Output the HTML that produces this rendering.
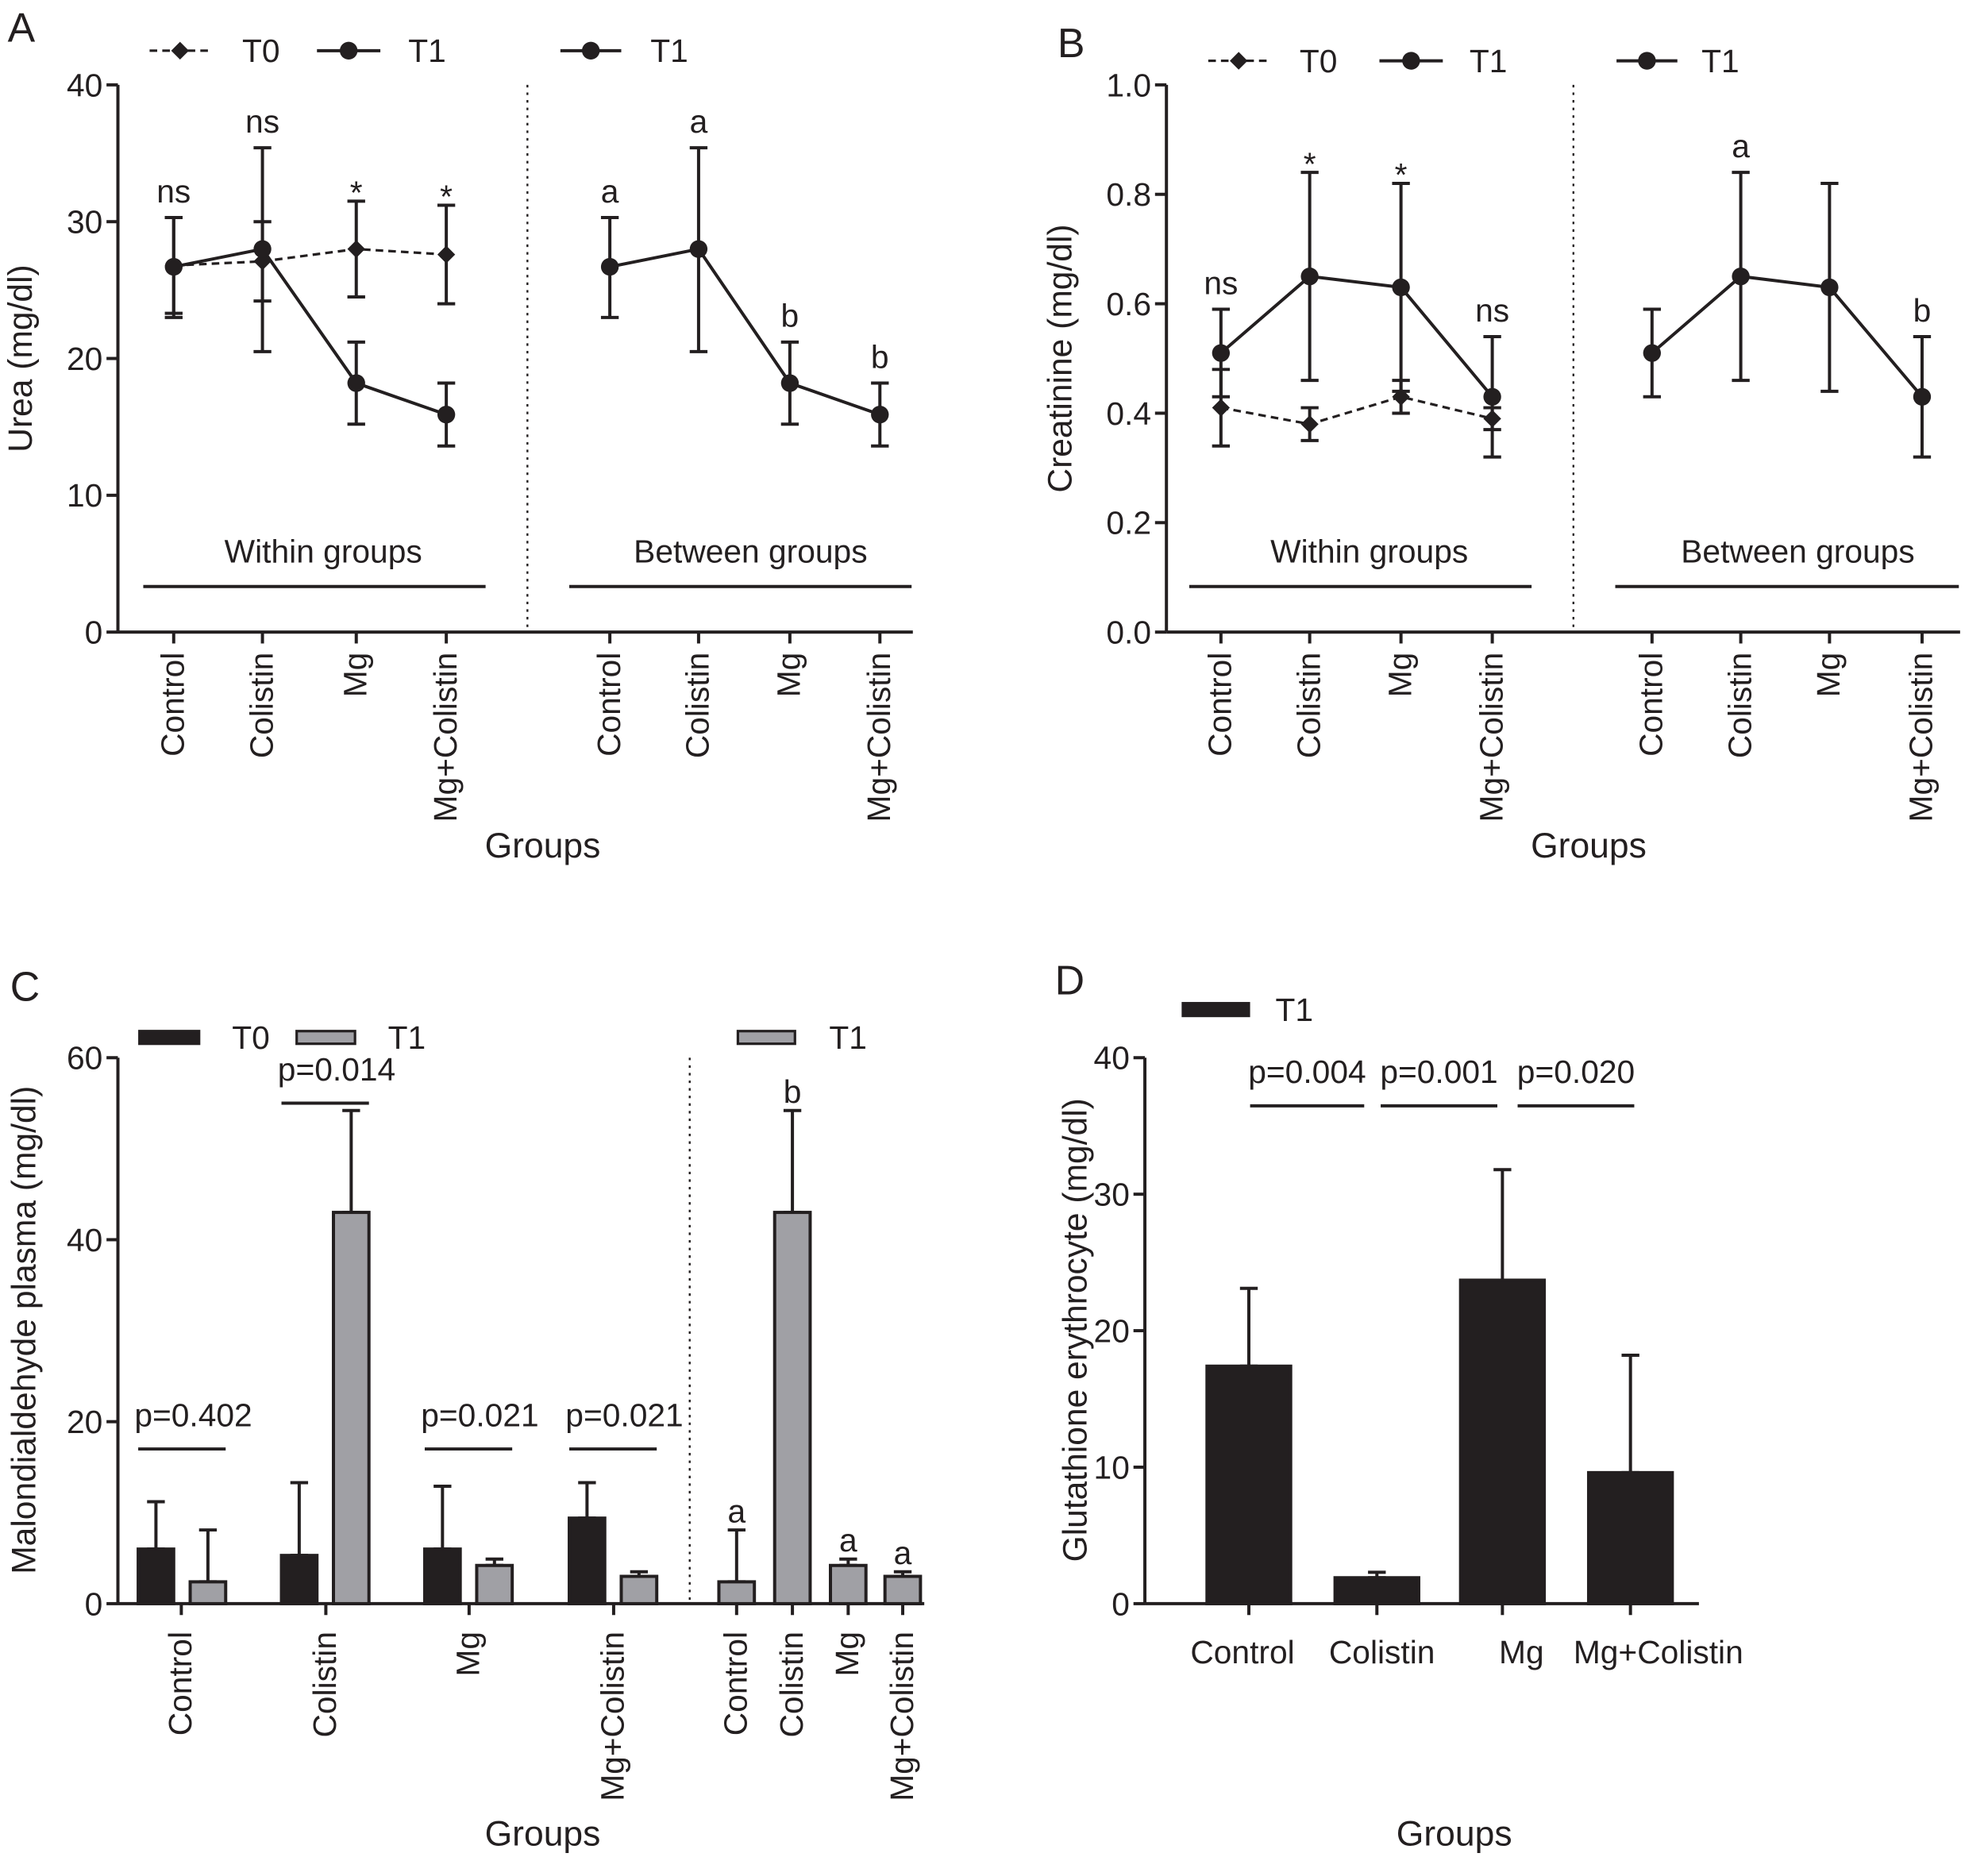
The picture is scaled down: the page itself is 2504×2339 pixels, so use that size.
<!DOCTYPE html>
<html><head><meta charset="utf-8"><style>
html,body{margin:0;padding:0;background:#fff;}
svg{display:block;font-family:"Liberation Sans",Arial,sans-serif;}
</style></head><body>
<svg id="fig" width="2504" height="2339" viewBox="0 0 1568 1466" preserveAspectRatio="none" xmlns="http://www.w3.org/2000/svg"></svg>
<script>
// ---- Panel A data (Urea) ----
const aCats = ["Control","Colistin","Mg","Mg+Colistin"];
const aT0 = [26.8, 27.1, 28.0, 27.6];
const aT0Lo = [23.3, 24.2, 24.5, 24.0];
const aT0Hi = [30.3, 30.0, 31.5, 31.2];
const aT1 = [26.7, 28.0, 18.2, 15.9];
const aT1Lo = [23.0, 20.5, 15.2, 13.6];
const aT1Hi = [30.3, 35.4, 21.2, 18.2];
const aWithinLbl = ["ns","ns","*","*"];
const aBetweenLbl = ["a","a","b","b"];
const aTicks = [0,10,20,30,40];
// ---- Panel B data (Creatinine) ----
const bT0 = [0.41, 0.38, 0.43, 0.39];
const bT0Lo = [0.34, 0.35, 0.40, 0.37];
const bT0Hi = [0.48, 0.41, 0.46, 0.41];
const bT1 = [0.51, 0.65, 0.63, 0.43];
const bT1Lo = [0.43, 0.46, 0.44, 0.32];
const bT1Hi = [0.59, 0.84, 0.82, 0.54];
const bWithinLbl = ["ns","*","*","ns"];
const bBetweenLbl = ["","a","","b"];
const bTicks = [0.0,0.2,0.4,0.6,0.8,1.0];
// ---- Panel C data (MDA) ----
const cT0 = [6.0, 5.3, 6.0, 9.4];
const cT0Err = [11.2, 13.3, 12.9, 13.3];
const cT1 = [2.4, 43.0, 4.2, 3.0];
const cT1Err = [8.1, 54.2, 4.9, 3.5];
const cP = ["p=0.402","p=0.014","p=0.021","p=0.021"];
const cPy = [17.0, 55.0, 17.0, 17.0];
const cBetweenLbl = ["a","b","a","a"];
const cTicks = [0,20,40,60];
// ---- Panel D data (Glutathione) ----
const dT1 = [17.4, 1.9, 23.7, 9.6];
const dT1Err = [23.1, 2.3, 31.8, 18.2];
const dP = ["p=0.004","p=0.001","p=0.020"];
const dTicks = [0,10,20,30,40];

const svg = document.getElementById('fig');
const NS = "http://www.w3.org/2000/svg";
function el(tag, attrs, name, parent){
  const e = document.createElementNS(NS, tag);
  for (const k in attrs) e.setAttribute(k, attrs[k]);
  
  
  (parent||svg).appendChild(e);
  return e;
}
function line(x1,y1,x2,y2,name,w,dash){
  const a={x1,y1,x2,y2,stroke:"#231f20","stroke-width":w||2.5};
  if(dash) a["stroke-dasharray"]=dash;
  return el("line",a,name);
}
function text(x,y,s,name,size,anchor,rot){
  const a={x,y,"font-size":(size||22)*1.16,"text-anchor":anchor||"middle",fill:"#231f20"};
  if(rot) a.transform=`rotate(-90 ${x} ${y})`;
  const t=el("text",a,name); t.textContent=s; return t;
}
function yAxis(x, y0, y1, ticks, max, fmt, name){
  line(x,y0,x,y1,name+"-y-axis");
  ticks.forEach(t=>{
    const y=y0-(t/max)*(y0-y1);
    line(x-9,y,x,y,name+"-y-tick");
    text(x-12,y+9,fmt(t),name+"-y-tick-label",22,"end");
  });
}
function errbar(x,lo,hi,name){
  line(x,lo,x,hi,name,2.5);
  line(x-7,hi,x+7,hi,name+"-cap",2.5);
  line(x-7,lo,x+7,lo,name+"-cap",2.5);
}
function diamond(x,y,name){el("polygon",{points:`${x},${y-7} ${x+7},${y} ${x},${y+7} ${x-7},${y}`,fill:"#231f20"},name);}
function dot(x,y,name){el("circle",{cx:x,cy:y,r:7,fill:"#231f20"},name);}

// ===== Line panels A and B =====
function linePanel(p){
  const {letter,ax,yTop,yBot,max,ticks,fmt,xs1,xs2,divX,T0,T0Lo,T0Hi,T1,T1Lo,T1Hi,wl,bl,ylabel,ylabelX,legY,leg,within,between,xEnd,groupsX,pfx}=p;
  const Y=v=>yBot-(v/max)*(yBot-yTop);
  text(p.letterX,p.letterY,letter,pfx+"-panel-letter",28,"start");
  yAxis(ax,yBot,yTop,ticks,max,fmt,pfx);
  line(ax,yBot,xEnd,yBot,pfx+"-x-axis");
  line(divX,yTop,divX,yBot,pfx+"-divider",1.5,"2,4");
  text(ylabelX,(yTop+yBot)/2,ylabel,pfx+"-y-axis-title",23,"middle",true);
  [...xs1,...xs2].forEach((x,i)=>{
    line(x,yBot,x,yBot+9,pfx+"-x-tick");
    text(x+8,yBot+16,aCats[i%4],pfx+"-x-tick-label",22,"end",true);
  });
  text(groupsX,677,"Groups",pfx+"-x-axis-title",24);
  el("polyline",{points:xs1.map((x,i)=>`${x},${Y(T0[i])}`).join(" "),fill:"none",stroke:"#231f20","stroke-width":2,"stroke-dasharray":"6,4"},pfx+"-t0-line");
  el("polyline",{points:xs1.map((x,i)=>`${x},${Y(T1[i])}`).join(" "),fill:"none",stroke:"#231f20","stroke-width":2.5},pfx+"-t1-line");
  xs1.forEach((x,i)=>{
    errbar(x,Y(T0Lo[i]),Y(T0Hi[i]),pfx+"-t0-errorbar");
    errbar(x,Y(T1Lo[i]),Y(T1Hi[i]),pfx+"-t1-errorbar");
    diamond(x,Y(T0[i]),pfx+"-t0-point");
    dot(x,Y(T1[i]),pfx+"-t1-point");
    const top=Math.min(Y(T0Hi[i]),Y(T1Hi[i]));
    if(wl[i]) text(x,top-(wl[i]==="*"?-2:12),wl[i],pfx+"-within-sig-label",22);
  });
  el("polyline",{points:xs2.map((x,i)=>`${x},${Y(T1[i])}`).join(" "),fill:"none",stroke:"#231f20","stroke-width":2.5},pfx+"-between-t1-line");
  xs2.forEach((x,i)=>{
    errbar(x,Y(T1Lo[i]),Y(T1Hi[i]),pfx+"-between-errorbar");
    dot(x,Y(T1[i]),pfx+"-between-point");
    if(bl[i]) text(x,Y(T1Hi[i])-12,bl[i],pfx+"-between-sig-label",22);
  });
  text(within[0],444,"Within groups",pfx+"-within-label",22);
  line(within[1],463,within[2],463,pfx+"-within-bar");
  text(between[0],444,"Between groups",pfx+"-between-label",22);
  line(between[1],463,between[2],463,pfx+"-between-bar");
  line(leg[0],legY,leg[0]+47,legY,pfx+"-legend-t0-line",2,"6,4");diamond(leg[0]+24,legY,pfx+"-legend-t0-marker");
  text(leg[1],legY+9,"T0",pfx+"-legend-t0-label",22,"start");
  line(leg[2],legY,leg[2]+50,legY,pfx+"-legend-t1-line");dot(leg[2]+25,legY,pfx+"-legend-t1-marker");
  text(leg[3],legY+9,"T1",pfx+"-legend-t1-label",22,"start");
  line(leg[4],legY,leg[4]+48,legY,pfx+"-legend-t1b-line");dot(leg[4]+24,legY,pfx+"-legend-t1b-marker");
  text(leg[5],legY+9,"T1",pfx+"-legend-t1b-label",22,"start");
}
linePanel({letter:"A",letterX:6,letterY:33,pfx:"urea",ax:93,yTop:67,yBot:499,max:40,ticks:aTicks,fmt:t=>t,
  xs1:[137,207,281,352],xs2:[481,551,623,694],divX:416,T0:aT0,T0Lo:aT0Lo,T0Hi:aT0Hi,T1:aT1,T1Lo:aT1Lo,T1Hi:aT1Hi,
  wl:aWithinLbl,bl:aBetweenLbl,ylabel:"Urea (mg/dl)",ylabelX:25,legY:40,leg:[118,191,250,322,442,513],
  within:[255,113,383],between:[592,449,719],xEnd:720,groupsX:428});
linePanel({letter:"B",letterX:834,letterY:45,pfx:"creatinine",ax:920,yTop:67,yBot:499,max:1.0,ticks:bTicks,fmt:t=>t.toFixed(1),
  xs1:[963,1033,1105,1177],xs2:[1303,1373,1443,1516],divX:1241,T0:bT0,T0Lo:bT0Lo,T0Hi:bT0Hi,T1:bT1,T1Lo:bT1Lo,T1Hi:bT1Hi,
  wl:bWithinLbl,bl:bBetweenLbl,ylabel:"Creatinine (mg/dl)",ylabelX:845,legY:48,leg:[953,1025,1088,1159,1275,1342],
  within:[1080,938,1208],between:[1418,1274,1545],xEnd:1546,groupsX:1253});

// ===== Panel C =====
(function(){
  const pfx="mda",ax=93,yTop=835,yBot=1266,max=60;
  const Y=v=>yBot-(v/max)*(yBot-yTop);
  text(8,790,"C",pfx+"-panel-letter",28,"start");
  yAxis(ax,yBot,yTop,cTicks,max,t=>t,pfx);
  line(ax,yBot,729,yBot,pfx+"-x-axis");
  line(544,yTop,544,yBot,pfx+"-divider",1.5,"2,4");
  text(28,1050,"Malondialdehyde plasma (mg/dl)",pfx+"-y-axis-title",23,"middle",true);
  const g0=[123,236,349,463], bw=28, gap=41;
  const ticksX=[143,257,370,484,581,625,669,712];
  ticksX.forEach((x,i)=>{line(x,yBot,x,yBot+9,pfx+"-x-tick");text(x+8,yBot+22,aCats[i%4],pfx+"-x-tick-label",22,"end",true);});
  function bar(cx,v,e,fill,name){
    errbar(cx,Y(v),Y(e),name+"-errorbar");
    el("rect",{x:cx-bw/2,y:Y(v),width:bw,height:yBot-Y(v),fill,stroke:"#231f20","stroke-width":2.5},name);
  }
  g0.forEach((x,i)=>{
    bar(x,cT0[i],cT0Err[i],"#231f20",pfx+"-t0-bar");
    bar(x+gap,cT1[i],cT1Err[i],"#a0a0a5",pfx+"-t1-bar");
    const py=Y(cPy[i]);
    line(x-14,py,x+gap+14,py,pfx+"-p-bracket");
    text(x+gap/2+9,py-18,cP[i],pfx+"-p-value",22);
  });
  const bx=[581,625,669,712];
  bx.forEach((x,i)=>{
    bar(x,cT1[i],cT1Err[i],"#a0a0a5",pfx+"-between-bar");
    text(x,Y(cT1Err[i])-6,cBetweenLbl[i],pfx+"-between-sig-label",22);
  });
  const ly=819;
  el("rect",{x:110,y:ly-5,width:47,height:10,fill:"#231f20",stroke:"#231f20","stroke-width":2},pfx+"-legend-t0-swatch");
  text(183,ly+9,"T0",pfx+"-legend-t0-label",22,"start");
  el("rect",{x:234,y:ly-5,width:46,height:10,fill:"#a0a0a5",stroke:"#231f20","stroke-width":2},pfx+"-legend-t1-swatch");
  text(306,ly+9,"T1",pfx+"-legend-t1-label",22,"start");
  el("rect",{x:582,y:ly-5,width:45,height:10,fill:"#a0a0a5",stroke:"#231f20","stroke-width":2},pfx+"-legend-t1b-swatch");
  text(654,ly+9,"T1",pfx+"-legend-t1b-label",22,"start");
  text(428,1457,"Groups",pfx+"-x-axis-title",24);
})();

// ===== Panel D =====
(function(){
  const pfx="gsh",ax=903,yTop=835,yBot=1266,max=40;
  const Y=v=>yBot-(v/max)*(yBot-yTop);
  text(832,785,"D",pfx+"-panel-letter",28,"start");
  yAxis(ax,yBot,yTop,dTicks,max,t=>t,pfx);
  line(ax,yBot,1340,yBot,pfx+"-x-axis");
  text(857,1050,"Glutathione erythrocyte (mg/dl)",pfx+"-y-axis-title",23,"middle",true);
  const xs=[985,1086,1185,1286], bw=66, lx=[980,1090,1200,1308];
  xs.forEach((x,i)=>{
    line(x,yBot,x,yBot+9,pfx+"-x-tick");
    text(lx[i],1313,aCats[i],pfx+"-x-tick-label",22);
    errbar(x,Y(dT1[i]),Y(dT1Err[i]),pfx+"-errorbar");
    el("rect",{x:x-bw/2,y:Y(dT1[i]),width:bw,height:yBot-Y(dT1[i]),fill:"#231f20",stroke:"#231f20","stroke-width":2.5},pfx+"-bar");
  });
  const pl=[[986,1076],[1089,1181],[1197,1289]];
  pl.forEach((p,i)=>{
    line(p[0],873,p[1],873,pfx+"-p-bracket");
    text((p[0]+p[1])/2,855,dP[i],pfx+"-p-value",22);
  });
  el("rect",{x:933,y:792,width:52,height:10,fill:"#231f20",stroke:"#231f20","stroke-width":2},pfx+"-legend-swatch");
  text(1006,806,"T1",pfx+"-legend-label",22,"start");
  text(1147,1457,"Groups",pfx+"-x-axis-title",24);
})();
</script>
</body></html>
